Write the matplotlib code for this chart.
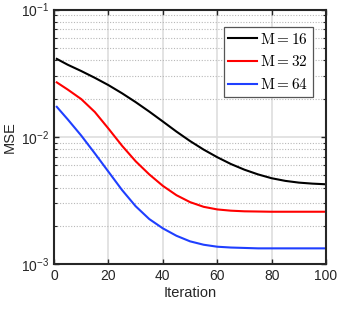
import matplotlib
matplotlib.use('Agg')
import matplotlib.pyplot as plt
from matplotlib.ticker import LogLocator, MultipleLocator, NullFormatter

plt.rcParams['font.family'] = ['Liberation Sans', 'DejaVu Sans']
plt.rcParams['mathtext.fontset'] = 'cm'

# data
iters = [1, 5, 10, 15, 20, 25, 30, 35, 40, 45, 50, 55, 60, 65, 70, 75, 80, 85, 90, 95, 100]
mse_16 = [0.0410, 0.0369, 0.0329, 0.0291, 0.0255, 0.0220, 0.01875, 0.0158, 0.0132, 0.0110, 0.00927,
          0.00794, 0.00692, 0.00612, 0.00552, 0.00507, 0.00473, 0.00451, 0.00437, 0.00429, 0.00424]
mse_32 = [0.0268, 0.02355, 0.0198, 0.01567, 0.01161, 0.00851, 0.00643, 0.00507, 0.00412, 0.00348, 0.00307,
          0.00282, 0.00269, 0.00263, 0.0026, 0.00259, 0.00258, 0.00258, 0.00258, 0.00258, 0.00258]
mse_64 = [0.01722, 0.01374, 0.01023, 0.00741, 0.00532, 0.00382, 0.00285, 0.00226, 0.00191, 0.00167, 0.00151,
          0.00142, 0.00137, 0.00135, 0.00134, 0.00133, 0.00133, 0.00133, 0.00133, 0.00133, 0.00133]
labels = [r'$\mathrm{M} = 16$', r'$\mathrm{M} = 32$', r'$\mathrm{M} = 64$']
colors = ['black', '#ff0000', '#1f3fff']

fig = plt.figure(figsize=(3.4, 3.1), dpi=100)
ax = fig.add_axes([0.159, 0.148, 0.8, 0.821])

for y, c, lab in zip([mse_16, mse_32, mse_64], colors, labels):
    ax.plot(iters, y, color=c, lw=1.5, label=lab)

ax.set_yscale('log')
ax.set_xlim(0, 100)
ax.set_ylim(1e-3, 1e-1)
ax.xaxis.set_major_locator(MultipleLocator(20))
ax.yaxis.set_major_locator(LogLocator(base=10))
ax.yaxis.set_minor_locator(LogLocator(base=10, subs=range(2, 10)))
ax.yaxis.set_minor_formatter(NullFormatter())

# grid like matlab
ax.grid(which='major', color='#dedede', lw=1.2, ls='-')
ax.grid(which='minor', axis='y', color='#b8b8b8', lw=0.8, ls=(0, (1, 1.5)))
ax.set_axisbelow(True)

ax.tick_params(which='both', direction='in', top=True, right=True, colors='#262626',
               labelcolor='#262626', labelsize=10)
ax.tick_params(which='major', length=3.5, width=1)
ax.tick_params(which='minor', length=2, width=0.8)
for s in ax.spines.values():
    s.set_linewidth(1.5)
    s.set_color('#262626')

ax.set_xlabel('Iteration', fontsize=10.5, color='#262626', labelpad=2)
ax.set_ylabel('MSE', fontsize=10.5, color='#262626', labelpad=3)

leg = ax.legend(loc='upper right', bbox_to_anchor=(0.952, 0.931), borderaxespad=0,
                fontsize=11, fancybox=False, framealpha=1, edgecolor='#555555',
                handlelength=1.9, handletextpad=0.2, borderpad=0.3, labelspacing=0.5)
leg.get_frame().set_linewidth(0.9)

fig.savefig('out.png', dpi=100)
